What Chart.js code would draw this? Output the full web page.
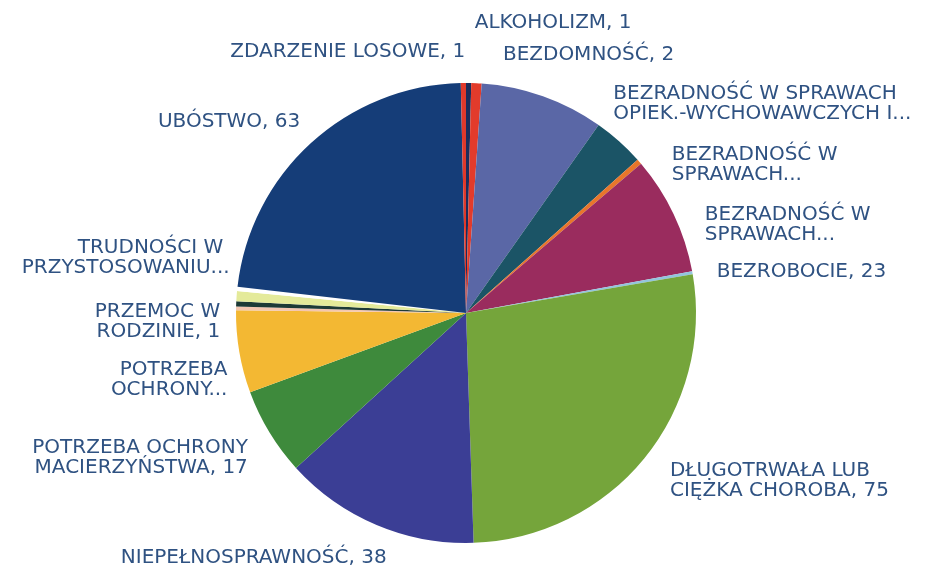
<!DOCTYPE html>
<html>
<head>
<meta charset="utf-8">
<script src="https://cdn.jsdelivr.net/npm/chart.js@4/dist/chart.umd.min.js"></script>
<style>
  html, body { margin: 0; padding: 0; background: #ffffff; }
  #wrap { width: 931px; height: 566px; }
</style>
</head>
<body>
<div id="wrap"><canvas id="c" width="931" height="566"></canvas></div>
<script>
// ---- data ----
const categories = [
  "ALKOHOLIZM",
  "BEZDOMNOŚĆ",
  "BEZRADNOŚĆ W SPRAWACH OPIEK.-WYCHOWAWCZYCH I...",
  "BEZRADNOŚĆ W SPRAWACH...",
  "BEZRADNOŚĆ W SPRAWACH...",
  "BEZROBOCIE",
  "",
  "DŁUGOTRWAŁA LUB CIĘŻKA CHOROBA",
  "NIEPEŁNOSPRAWNOŚĆ",
  "POTRZEBA OCHRONY MACIERZYŃSTWA",
  "POTRZEBA OCHRONY...",
  "",
  "PRZEMOC W RODZINIE",
  "TRUDNOŚCI W PRZYSTOSOWANIU...",
  "",
  "UBÓSTWO",
  "ZDARZENIE LOSOWE"
];
const values = [1, 2, 24, 10, 1, 23, 0.6, 75, 38, 17, 16, 0.7, 1, 2, 0.8, 63, 1];
// label text as printed (null = no label shown)
const labelLines = [
  ["ALKOHOLIZM, 1"],
  ["BEZDOMNOŚĆ, 2"],
  ["BEZRADNOŚĆ W SPRAWACH", "OPIEK.-WYCHOWAWCZYCH I..."],
  ["BEZRADNOŚĆ W", "SPRAWACH..."],
  ["BEZRADNOŚĆ W", "SPRAWACH..."],
  ["BEZROBOCIE, 23"],
  null,
  ["DŁUGOTRWAŁA LUB", "CIĘŻKA CHOROBA, 75"],
  ["NIEPEŁNOSPRAWNOŚĆ, 38"],
  ["POTRZEBA OCHRONY", "MACIERZYŃSTWA, 17"],
  ["POTRZEBA", "OCHRONY..."],
  null,
  ["PRZEMOC W", "RODZINIE, 1"],
  ["TRUDNOŚCI W ", "PRZYSTOSOWANIU..."],
  null,
  ["UBÓSTWO, 63"],
  ["ZDARZENIE LOSOWE, 1"]
];

// ---- styles / layout ----
const colors = [
  "#1b2d5c", "#e23b2b", "#5a67a6", "#1b5466", "#e8762b", "#9a2c5e", "#92c5dd",
  "#75a53b", "#3b3e95", "#3e8a3c", "#f3b833", "#f4c6b0", "#1d3a36", "#e4ea9a",
  "#ffffff", "#153d78", "#e0392b"
];
// label offsets relative to the point just outside each slice's mid-angle
const labelNudge = [
  [6, -45], [26, -13], [67, 12], [46, 26], [58, 65], [34, 67], [0, 0],
  [18, 11], [14, 29], [-13, 15], [-2, 21], [0, 0], [-6, 13], [3, -42],
  [0, 0], [-4, -9], [2, -16]
];
const labelFont = '20px "DejaVu Sans", sans-serif';
const labelColor = '#2f5282';
const lineStep = 20;

const labelPlugin = {
  id: 'outLabels',
  afterDatasetsDraw(chart) {
    const ctx = chart.ctx;
    const meta = chart.getDatasetMeta(0);
    ctx.save();
    ctx.font = labelFont;
    ctx.fillStyle = labelColor;
    ctx.textBaseline = 'alphabetic';
    meta.data.forEach((arc, i) => {
      const lines = labelLines[i];
      if (!lines) return;
      const p = arc.getProps(['x', 'y', 'startAngle', 'endAngle', 'outerRadius'], true);
      const mid = (p.startAngle + p.endAngle) / 2;
      const r = p.outerRadius + 10;
      const ax = p.x + Math.cos(mid) * r + labelNudge[i][0];
      const ay = p.y + Math.sin(mid) * r + labelNudge[i][1];
      const rightSide = Math.cos(mid) >= 0 && !(Math.cos(mid) < 0.05 && Math.sin(mid) < 0 && mid > Math.PI);
      let clock = (mid + Math.PI / 2) % (2 * Math.PI);
      if (clock < 0) clock += 2 * Math.PI;
      ctx.textAlign = clock < Math.PI ? 'left' : 'right';
      lines.forEach((t, k) => ctx.fillText(t, ax, ay + k * lineStep));
    });
    ctx.restore();
  }
};

new Chart(document.getElementById('c'), {
  type: 'pie',
  data: {
    labels: categories,
    datasets: [{
      data: values,
      backgroundColor: colors,
      borderWidth: 0
    }]
  },
  options: {
    responsive: false,
    devicePixelRatio: 1,
    animation: false,
    layout: { padding: { left: 236, right: 235, top: 83, bottom: 23 } },
    plugins: {
      legend: { display: false },
      tooltip: { enabled: false }
    }
  },
  plugins: [labelPlugin]
});
</script>
</body>
</html>
